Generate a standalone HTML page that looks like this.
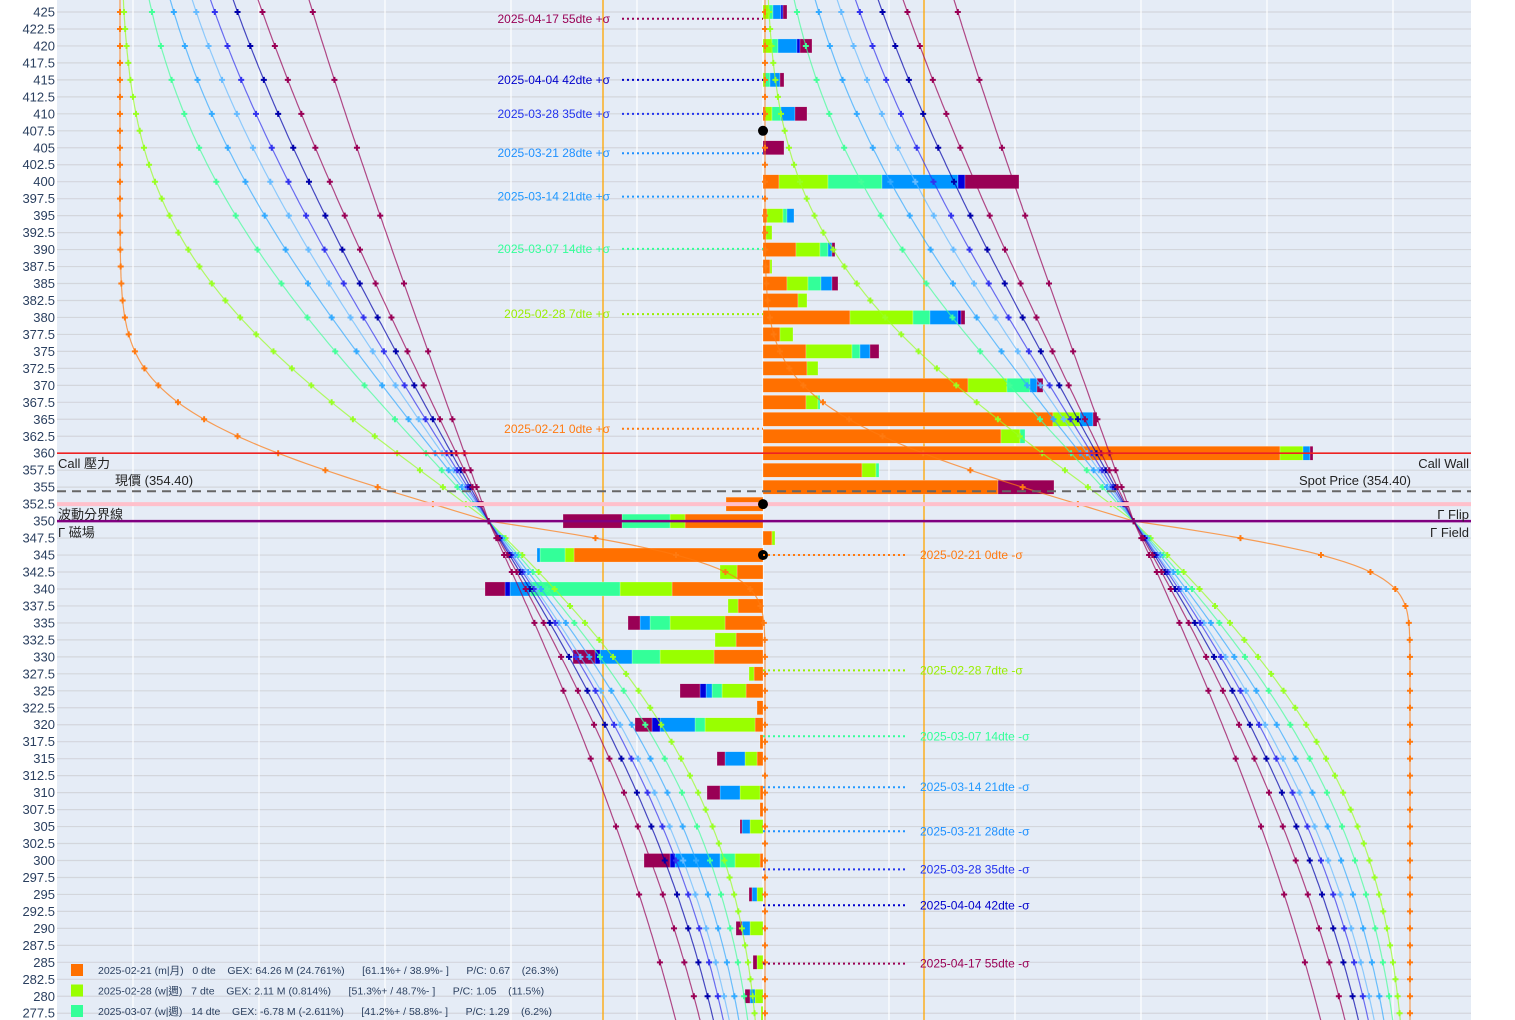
<!DOCTYPE html>
<html><head><meta charset="utf-8">
<style>
html,body{margin:0;padding:0;background:#fff;}
svg{display:block;font-family:"Liberation Sans","Noto Sans CJK TC",sans-serif;}
</style></head>
<body>
<svg id="chart" width="1515" height="1020" viewBox="0 0 1515 1020" xmlns="http://www.w3.org/2000/svg">
<rect x="57" y="0" width="1414" height="1020" fill="#e5ecf6"/>
<g id="grid"></g>
<g id="vlines"></g>
<g id="bars"></g>
<g id="curves"></g>
<g id="levels"></g>
<g id="annots"></g>
<g id="yaxis"></g>
<g id="legend"></g>
</svg>
<script>
const NS="http://www.w3.org/2000/svg";
const strikes=[];for(let k=425;k>=277.5;k-=2.5)strikes.push(k);
const expiryLabels=["2025-02-21 0dte","2025-02-28 7dte","2025-03-07 14dte","2025-03-14 21dte","2025-03-21 28dte","2025-03-28 35dte","2025-04-04 42dte","2025-04-17 55dte"];
const seriesNames=["0dte","7dte","14dte","21-28dte","35dte","55dte"];
const orangeGex=[0,0,0,0,0,0,.2,0,0,0,1.6,0,.4,.3,3.3,.7,2.4,3.5,8.7,1.7,4.3,4.4,20.5,4.3,29,23.8,51.7,9.9,23.5,-3.7,-7.8,.9,-18.9,-2.6,-9.1,-2.5,-3.8,-2.7,-4.9,-.9,-1.7,-.6,-.8,-.3,-.6,0,-.3,-.3,0,0,-.3,0,0,0,0,0,0,0,0,0];
const limeGex=[.6,0,.9,0,.2,0,.7,0,0,0,4.9,0,1.6,.6,2.4,.2,2.1,.9,6.3,1.3,4.6,1.1,3.9,1.2,2.7,1.9,2.3,1.4,0,0,-1.5,.3,-.9,-1.7,-5.2,-1,-5.5,-2.1,-5.4,-.5,-2.4,0,-5,0,-1.2,0,-2,0,-1.3,0,-2.5,0,-.6,0,-1.3,0,-.6,0,-.8,-.2];
const greenGex=[.4,0,.6,0,.5,0,.9,0,0,0,5.4,0,.4,0,.8,0,1.3,0,1.7,0,.8,0,2.3,.2,0,.5,0,.3,0,0,-4.8,0,-2.5,0,-9,0,-2,0,-2.8,0,-1,0,-1,0,0,0,0,0,0,0,-1.5,0,0,0,0,0,0,0,0,0];
const blueGex=[.8,0,1.9,0,1.0,0,1.4,0,0,0,7.6,0,.7,0,.4,0,1.1,0,2.8,0,1.0,0,.7,0,1.3,0,.7,0,0,0,0,0,-.3,0,-2,0,-1,0,-3.2,0,-.6,0,-3.5,0,-2,0,-2,0,-.8,0,-4.5,0,-.5,0,-.8,0,0,0,-.5,0];
const navyGex=[.2,0,.3,0,0,0,0,0,0,0,.7,0,0,0,0,0,0,0,.3,0,0,0,0,0,0,0,0,0,0,0,0,0,0,0,-.5,0,0,0,-.5,0,-.6,0,-.8,0,0,0,0,0,0,0,-.5,0,0,0,0,0,0,0,0,0];
const maroonGex=[.4,0,1.2,0,.4,0,1.2,0,2.1,0,5.4,0,0,0,.3,0,.6,0,.4,0,.9,0,.6,0,.4,0,.3,0,5.6,0,-5.9,0,0,0,-2,0,-1.2,0,-2.2,0,-2,0,-1.7,0,-.8,0,-1.3,0,-.2,0,-2.6,0,-.3,0,-.6,0,-.4,0,-.5,0];
const sigmaUp=[11.5,28,41,48,55,61,69,79,106];
const sigmaDown=[5.5,37,42,47,52,55,60,67,81];
const markerStep=[2.5,2.5,5,5,5,5,5,5,10];
const spot=354.4, callWall=360, gFlip=352.5, gField=350, pivot=350;
const plusSigma=[["2025-04-17 55dte +σ",424],["2025-04-04 42dte +σ",415],["2025-03-28 35dte +σ",410],["2025-03-21 28dte +σ",404.2],["2025-03-14 21dte +σ",397.8],["2025-03-07 14dte +σ",390.1],["2025-02-28 7dte +σ",380.5],["2025-02-21 0dte +σ",363.6]];
const minusSigma=[["2025-02-21 0dte -σ",345],["2025-02-28 7dte -σ",328],["2025-03-07 14dte -σ",318.3],["2025-03-14 21dte -σ",310.8],["2025-03-21 28dte -σ",304.3],["2025-03-28 35dte -σ",298.7],["2025-04-04 42dte -σ",293.4],["2025-04-17 55dte -σ",284.8]];
const markerStrikes=[407.5,352.5,345];

const X0=763, PX=10, LEFT=57, RIGHT=1471;
const y=k=>12+(425-k)/2.5*16.97;
const x=v=>X0+v*PX;
function el(t,a,p){const e=document.createElementNS(NS,t);for(const k in a)e.setAttribute(k,a[k]);(p||document.getElementById("chart")).appendChild(e);return e;}
const g=id=>document.getElementById(id);

strikes.forEach(k=>{const l=el("line",{x1:LEFT,x2:RIGHT,y1:y(k),y2:y(k),stroke:"#d3d6dc","stroke-width":1.2},g("grid"));

});
for(let n=-5;n<=5;n++){const l=el("line",{x1:x(n*12.6),x2:x(n*12.6),y1:0,y2:1020,stroke:"#fff","stroke-width":1.2},g("grid"));

}
[603,924].forEach(px=>{const l=el("line",{x1:px,x2:px,y1:0,y2:1020,stroke:"#ffa500","stroke-width":1.3},g("vlines"));

});

const series=[orangeGex,limeGex,greenGex,blueGex,navyGex,maroonGex];
const barColors=["#ff7000","#99ff00","#33ff99","#0095ff","#0000dd","#990055"];
strikes.forEach((k,i)=>{let pos=0,neg=0;
series.forEach((s,j)=>{const v=s[i];if(!v)return;let a,b;
if(v>0){a=pos;pos+=v;b=pos;}else{a=neg;neg+=v;b=neg;}
const r=el("rect",{x:Math.min(x(a),x(b)),y:y(k)-7,width:Math.abs(x(b)-x(a)),height:14,fill:barColors[j],stroke:"#fff","stroke-width":0.4,"stroke-opacity":0.6},g("bars"));

});});

const curveColors=["#ff7a10","#99ff22","#44ff99","#33aaff","#66bbff","#3333ee","#0000aa","#990055","#990055"];
function erf(z){const t=1/(1+0.3275911*Math.abs(z));const r=1-(((((1.061405429*t-1.453152027)*t)+1.421413741)*t-0.284496736)*t+0.254829592)*t*Math.exp(-z*z);return z>=0?r:-r;}
const Phi=z=>0.5*(1+erf(z/Math.SQRT2));
function F(i,k){const s=k<pivot?sigmaDown[i]:sigmaUp[i];return Phi(0.18+(pivot-k)/s);}
const clip=el("clipPath",{id:"pc"});el("rect",{x:LEFT,y:0,width:RIGHT-LEFT,height:1020},clip);
g("curves").setAttribute("clip-path","url(#pc)");
[120,765].forEach((base,side)=>{
sigmaUp.forEach((_,i)=>{let d="";for(let k=427.5;k>=275;k-=0.5){d+=(d?"L":"M")+(base+645*F(i,k)).toFixed(1)+","+y(k).toFixed(1);}
const p=el("path",{d:d,fill:"none",stroke:curveColors[i],"stroke-width":1.2,"stroke-opacity":0.7},g("curves"));


strikes.forEach(k=>{const near=Math.abs(k-351)<=9;const st=markerStep[i];if(!near&&Math.abs((425-k)/st-Math.round((425-k)/st))>1e-6)return;
const cx=base+645*F(i,k),cy=y(k);
const m=el("path",{d:`M${cx-3},${cy}H${cx+3}M${cx},${cy-3}V${cy+3}`,stroke:curveColors[i],"stroke-width":2},g("curves"));

});});});

const L=g("levels");
let e;
e=el("line",{x1:LEFT,x2:RIGHT,y1:y(gFlip),y2:y(gFlip),stroke:"#ffc0cb","stroke-width":4},L);

e=el("line",{x1:LEFT,x2:RIGHT,y1:y(callWall),y2:y(callWall),stroke:"#ee2222","stroke-width":1.6},L);

e=el("line",{x1:LEFT,x2:RIGHT,y1:y(spot),y2:y(spot),stroke:"#666","stroke-width":2,"stroke-dasharray":"9,6"},L);

e=el("line",{x1:LEFT,x2:RIGHT,y1:y(gField),y2:y(gField),stroke:"#800080","stroke-width":2.5},L);

const txt=(s,xx,yy,a,name,fill,size)=>{const t=el("text",Object.assign({x:xx,y:yy,"font-size":size||13,fill:fill||"#222"},a||{}),L);t.textContent=s;

return t;};
txt("Call 壓力",58,y(callWall)+15,{},"call-wall-label-left");
txt("Call Wall",1469,y(callWall)+15,{"text-anchor":"end"},"call-wall-label-right");
txt("現價 (354.40)",115,y(spot)-6,{},"spot-label-left");
txt("Spot Price (354.40)",1411,y(spot)-6,{"text-anchor":"end"},"spot-label-right");
txt("波動分界線",58,y(gField)-2,{},"gamma-flip-label-left");
txt("Γ Flip",1469,y(gField)-2,{"text-anchor":"end"},"gamma-flip-label-right");
txt("Γ 磁場",58,y(gField)+16,{},"gamma-field-label-left");
txt("Γ Field",1469,y(gField)+16,{"text-anchor":"end"},"gamma-field-label-right");
markerStrikes.forEach(k=>{const c=el("circle",{cx:X0,cy:y(k),r:5,fill:"#000"},L);

});

const annColors=["#990055","#0000cc","#2233ee","#1e90ff","#2299ff","#33ff99","#99ee00","#ff7a10"];
const A=g("annots");
plusSigma.forEach((p,i)=>{const yy=y(p[1]);
const l=el("line",{x1:622,x2:763,y1:yy,y2:yy,stroke:annColors[i],"stroke-width":2,"stroke-dasharray":"2,3"},A);

const t=el("text",{x:610,y:yy+4,"text-anchor":"end","font-size":12,fill:annColors[i]},A);t.textContent=p[0];
});
const annColors2=annColors.slice().reverse();
minusSigma.forEach((p,i)=>{const yy=y(p[1]);
const l=el("line",{x1:763,x2:906,y1:yy,y2:yy,stroke:annColors2[i],"stroke-width":2,"stroke-dasharray":"2,3"},A);

const t=el("text",{x:920,y:yy+4,"font-size":12,fill:annColors2[i]},A);t.textContent=p[0];
});

strikes.forEach(k=>{const t=el("text",{x:55,y:y(k)+4.5,"text-anchor":"end","font-size":13,fill:"#2a3f5f"},g("yaxis"));t.textContent=String(k);
});

const legendText=["2025-02-21 (m|月)   0 dte    GEX: 64.26 M (24.761%)      [61.1%+ / 38.9%- ]      P/C: 0.67    (26.3%)","2025-02-28 (w|週)   7 dte    GEX: 2.11 M (0.814%)      [51.3%+ / 48.7%- ]      P/C: 1.05    (11.5%)","2025-03-07 (w|週)   14 dte    GEX: -6.78 M (-2.611%)      [41.2%+ / 58.8%- ]      P/C: 1.29    (6.2%)"];
legendText.forEach((s,i)=>{const yy=970+i*20.5;
const r=el("rect",{x:71,y:yy-6,width:12,height:12,fill:barColors[i]},g("legend"));

const t=el("text",{x:98,y:yy+4,"font-size":10.5,fill:"#2a3f5f"},g("legend"));t.setAttribute("style","white-space:pre");t.textContent=s;
});
</script>
</body></html>
